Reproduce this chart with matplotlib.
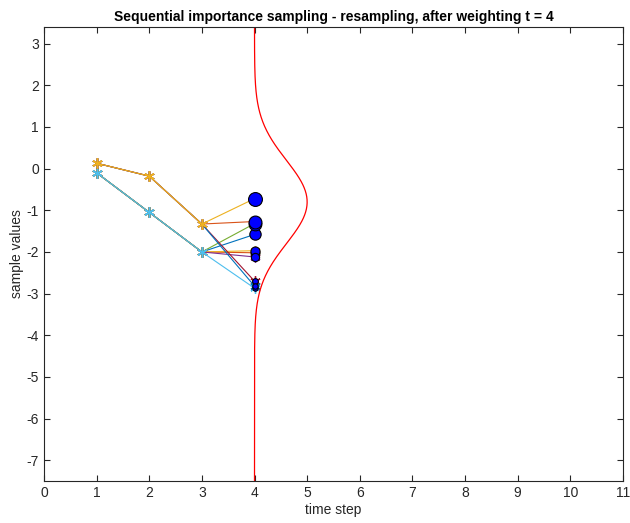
import numpy as np
import matplotlib.pyplot as plt

# particle trajectories, t = 1..4 (one row per particle)
time_steps = [1, 2, 3, 4]
upper_path = [0.13, -0.18, -1.33]
lower_path = [-0.10, -1.05, -2.00]
ancestor = ['lower', 'lower', 'lower', 'lower', 'lower', 'lower',
            'upper', 'upper', 'upper', 'upper']
final_values = [-1.58, -2.02, -1.97, -2.12, -1.32, -2.87,
                -2.70, -2.82, -1.27, -0.72]

# likelihood of the observation at t = 4
obs_mean = -0.80
obs_sigma = 1.0

colors = ['#0072BD', '#D95319', '#EDB120', '#7E2F8E', '#77AC30',
          '#4DBEEE', '#A2142F']

plt.rcParams['font.family'] = ['Liberation Sans', 'DejaVu Sans']
plt.rcParams['axes.unicode_minus'] = False

fig = plt.figure(figsize=(6.3, 5.23), dpi=100)
ax = fig.add_axes([0.0698, 0.0803, 0.919, 0.868])

asterisk = (6, 2, 0)
for i in range(len(final_values)):
    path = upper_path if ancestor[i] == 'upper' else lower_path
    vals = path + [final_values[i]]
    c = colors[i % len(colors)]
    ax.plot(time_steps, vals, '-', color=c, lw=0.8, marker=asterisk,
            markersize=7.5, markeredgewidth=1.0)

w = np.exp(-(np.array(final_values) - obs_mean) ** 2 / (2 * obs_sigma ** 2))
for v, wi in zip(final_values, w):
    ax.plot(4, v, 'o', markerfacecolor='#0000FF', markeredgecolor='black',
            markeredgewidth=0.8, markersize=3 + 7 * wi)

yy = np.linspace(-7.5, 3.4, 600)
ax.plot(4 + np.exp(-(yy - obs_mean) ** 2 / (2 * obs_sigma ** 2)), yy,
        color='red', lw=0.9)

ax.set_xlim(0, 11)
ax.set_ylim(-7.5, 3.4)
ax.set_xticks(range(0, 12))
ax.set_yticks(range(-7, 4))
ax.tick_params(direction='in', top=True, right=True, labelsize=10,
               color='#262626', labelcolor='#262626', length=4)
for s in ax.spines.values():
    s.set_color('#262626')
    s.set_linewidth(0.8)
ax.set_xlabel('time step', fontsize=10, color='#262626', labelpad=2)
ax.set_ylabel('sample values', fontsize=10, color='#262626', labelpad=2)
ax.set_title('Sequential importance sampling - resampling, after weighting t = 4',
             fontsize=10, fontweight='bold', pad=4)

fig.savefig('out.png', dpi=100)
